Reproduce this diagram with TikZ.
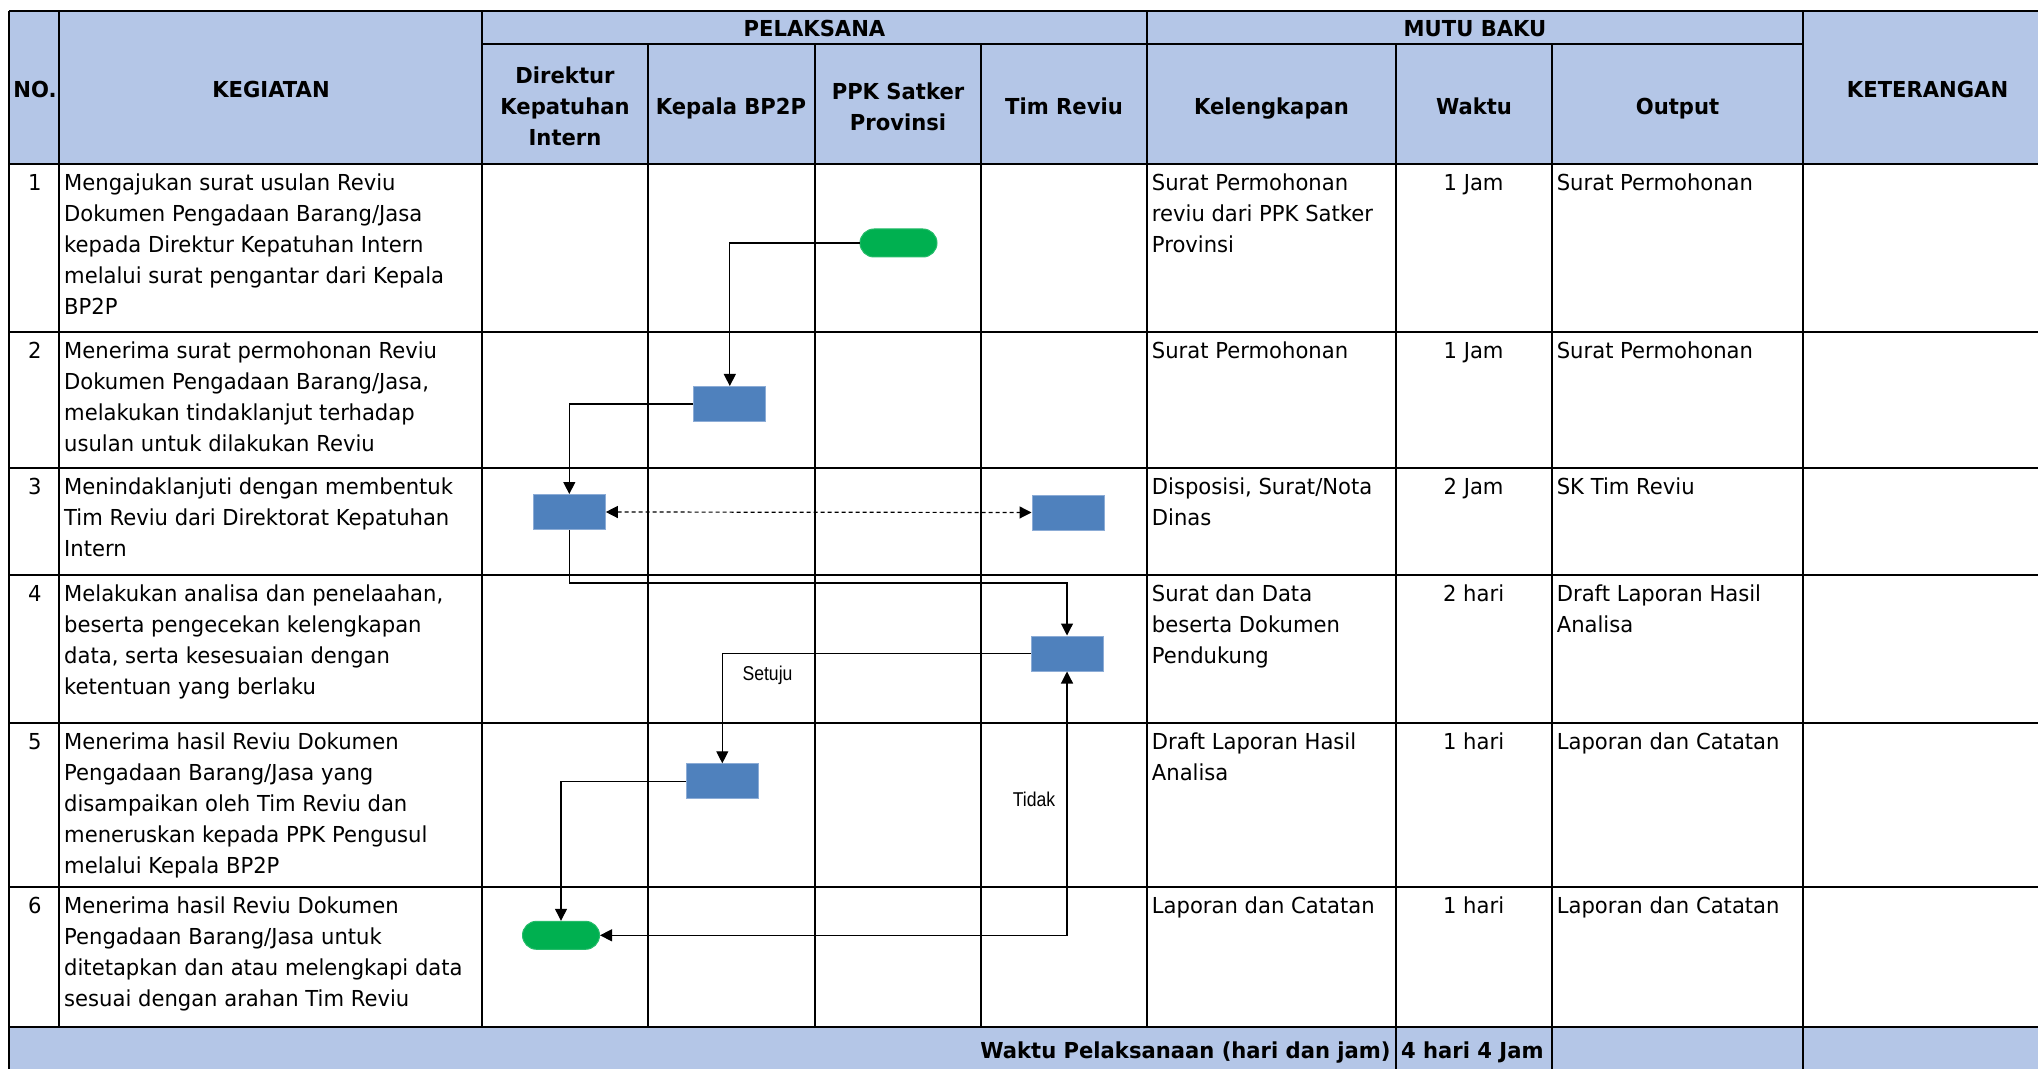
\documentclass[tikz,border=0pt]{standalone}
\usepackage{fontspec}
\setmainfont{DejaVu Sans}[FakeStretch=0.96]
\newfontfamily\labelfont{Liberation Sans}[FakeStretch=0.88]
\usetikzlibrary{arrows.meta}

\definecolor{hdr}{RGB}{180,198,231}
\definecolor{boxblue}{RGB}{79,129,189}
\definecolor{boxedge}{RGB}{140,172,214}
\definecolor{termgreen}{RGB}{0,176,80}

\begin{document}
\begin{tikzpicture}[x=0.5pt,y=-0.5pt,
  tline/.style={line width=1pt,black},
  txt/.style={inner sep=0pt,font=\fontsize{11}{15.5}\selectfont,execute at begin node=\strut},
  cell/.style={txt,anchor=north west,align=left},
  ccell/.style={txt,anchor=north,align=center},
  hcell/.style={txt,anchor=north,align=center,font=\fontsize{11}{15.5}\selectfont\bfseries},
  ml/.style={yshift=-2.5pt},
  procbox/.style={rectangle,fill=boxblue,draw=boxedge,line width=0.5pt,
    minimum width=36pt,minimum height=17.5pt,inner sep=0pt},
  termbox/.style={rectangle,rounded corners=7pt,fill=termgreen,draw=termgreen!85!white,
    line width=0.5pt,minimum width=38.5pt,minimum height=14pt,inner sep=0pt},
  flow/.style={line width=0.6pt,black,-{Triangle[length=6pt,width=6pt]}},
  twoway/.style={line width=0.6pt,black,{Triangle[length=6pt,width=6pt]}-{Triangle[length=6pt,width=6pt]}},
  dflow/.style={twoway,dash pattern=on 2pt off 1.5pt},
  lbl/.style={inner sep=0pt,anchor=base,font=\labelfont\fontsize{10}{12}\selectfont}
]
\clip (0,0) rectangle (2038,1069);
\fill[white] (0,0) rectangle (2038,1069);

% header and footer bands
\fill[hdr] (9,11) rectangle (2052,164);
\fill[hdr] (9,1027) rectangle (2052,1090);

% horizontal rules
\draw[tline] (9,11) -- (2052,11);
\draw[tline] (482,44) -- (1803,44);
\foreach \yy in {164,332,468,575,723,887,1027}
  \draw[tline] (9,\yy) -- (2052,\yy);

% vertical rules
\draw[tline] (9,11) -- (9,1090);
\draw[tline] (58.5,11) -- (58.5,1027);
\draw[tline] (482,11) -- (482,1027);
\draw[tline] (648,44) -- (648,1027);
\draw[tline] (814.5,44) -- (814.5,1027);
\draw[tline] (981,44) -- (981,1027);
\draw[tline] (1147,11) -- (1147,1027);
\draw[tline] (1396,44) -- (1396,1090);
\draw[tline] (1552,44) -- (1552,1090);
\draw[tline] (1803,11) -- (1803,1090);

% header texts
\node[hcell] (hno) at (35,75) {NO.};
\node[hcell] (hkeg) at (271,75) {KEGIATAN};
\node[hcell] (hket) at (1927.6,75) {KETERANGAN};
\node[hcell] (hpel) at (814.5,14.3) {PELAKSANA};
\node[hcell] (hmutu) at (1475,14.3) {MUTU BAKU};
\node[hcell,ml] (hdir) at (565,61.6) {Direktur\\Kepatuhan\\Intern};
\node[hcell] (hkep) at (731,92.3) {Kepala BP2P};
\node[hcell,ml] (hppk) at (898,77.3) {PPK Satker\\Provinsi};
\node[hcell] (htim) at (1064,92.3) {Tim Reviu};
\node[hcell] (hkel) at (1271.5,92.3) {Kelengkapan};
\node[hcell] (hwak) at (1474,92.3) {Waktu};
\node[hcell] (hout) at (1677.5,92.3) {Output};

% row 1
\node[ccell] (n1) at (34.8,168.8) {1};
\node[cell,ml] (k1) at (63.8,168.8) {Mengajukan surat usulan Reviu\\Dokumen Pengadaan Barang/Jasa\\kepada Direktur Kepatuhan Intern\\melalui surat pengantar dari Kepala\\BP2P};
\node[cell,ml] (l1) at (1151.5,168.8) {Surat Permohonan\\reviu dari PPK Satker\\Provinsi};
\node[ccell] (w1) at (1473.6,168.8) {1 Jam};
\node[cell] (o1) at (1556.4,168.8) {Surat Permohonan};

% row 2
\node[ccell] (n2) at (34.8,336.8) {2};
\node[cell,ml] (k2) at (63.8,336.8) {Menerima surat permohonan Reviu\\Dokumen Pengadaan Barang/Jasa,\\melakukan tindaklanjut terhadap\\usulan untuk dilakukan Reviu};
\node[cell] (l2) at (1151.5,336.8) {Surat Permohonan};
\node[ccell] (w2) at (1473.6,336.8) {1 Jam};
\node[cell] (o2) at (1556.4,336.8) {Surat Permohonan};

% row 3
\node[ccell] (n3) at (34.8,472.8) {3};
\node[cell,ml] (k3) at (63.8,472.8) {Menindaklanjuti dengan membentuk\\Tim Reviu dari Direktorat Kepatuhan\\Intern};
\node[cell,ml] (l3) at (1151.5,472.8) {Disposisi, Surat/Nota\\Dinas};
\node[ccell] (w3) at (1473.6,472.8) {2 Jam};
\node[cell] (o3) at (1556.4,472.8) {SK Tim Reviu};

% row 4
\node[ccell] (n4) at (34.8,579.8) {4};
\node[cell,ml] (k4) at (63.8,579.8) {Melakukan analisa dan penelaahan,\\beserta pengecekan kelengkapan\\data, serta kesesuaian dengan\\ketentuan yang berlaku};
\node[cell,ml] (l4) at (1151.5,579.8) {Surat dan Data\\beserta Dokumen\\Pendukung};
\node[ccell] (w4) at (1473.6,579.8) {2 hari};
\node[cell,ml] (o4) at (1556.4,579.8) {Draft Laporan Hasil\\Analisa};

% row 5
\node[ccell] (n5) at (34.8,727.8) {5};
\node[cell,ml] (k5) at (63.8,727.8) {Menerima hasil Reviu Dokumen\\Pengadaan Barang/Jasa yang\\disampaikan oleh Tim Reviu dan\\meneruskan kepada PPK Pengusul\\melalui Kepala BP2P};
\node[cell,ml] (l5) at (1151.5,727.8) {Draft Laporan Hasil\\Analisa};
\node[ccell] (w5) at (1473.6,727.8) {1 hari};
\node[cell] (o5) at (1556.4,727.8) {Laporan dan Catatan};

% row 6
\node[ccell] (n6) at (34.8,891.8) {6};
\node[cell,ml] (k6) at (63.8,891.8) {Menerima hasil Reviu Dokumen\\Pengadaan Barang/Jasa untuk\\ditetapkan dan atau melengkapi data\\sesuai dengan arahan Tim Reviu};
\node[cell] (l6) at (1151.5,891.8) {Laporan dan Catatan};
\node[ccell] (w6) at (1473.6,891.8) {1 hari};
\node[cell] (o6) at (1556.4,891.8) {Laporan dan Catatan};

% footer
\node[inner sep=0pt,anchor=base east,font=\fontsize{11}{15.5}\selectfont\bfseries] (ftot) at (1391,1058) {Waktu Pelaksanaan (hari dan jam)};
\node[inner sep=0pt,anchor=base west,font=\fontsize{11}{15.5}\selectfont\bfseries] (fval) at (1400.6,1058) {4 hari 4 Jam};

% flow shapes
\node[termbox] (start) at (898.5,243) {};
\node[procbox] (b1) at (729.8,404) {};
\node[procbox] (b2) at (569.3,512) {};
\node[procbox] (b3) at (1068,512.5) {};
\node[procbox] (b4) at (1067,653.5) {};
\node[procbox] (b5) at (722.3,781.3) {};
\node[termbox] (stop) at (561,935.3) {};
\coordinate (j1) at (569.3,583);

% connectors
\draw[flow] (start.west) -| (b1.north);
\draw[flow] (b1.west) -| (b2.north);
\draw[dflow] (b2.east) -- (b3.west);
\draw[flow] (b2.south) -- (j1) -| (b4.north);
\draw[flow] (b4.west) -| (b5.north);
\draw[flow] (b5.west) -| (stop.north);
\draw[twoway] (b4.south) |- (stop.east);

\node[lbl] (lsetuju) at (767.5,680) {Setuju};
\node[lbl] (ltidak) at (1034,806) {Tidak};
\end{tikzpicture}
\end{document}
